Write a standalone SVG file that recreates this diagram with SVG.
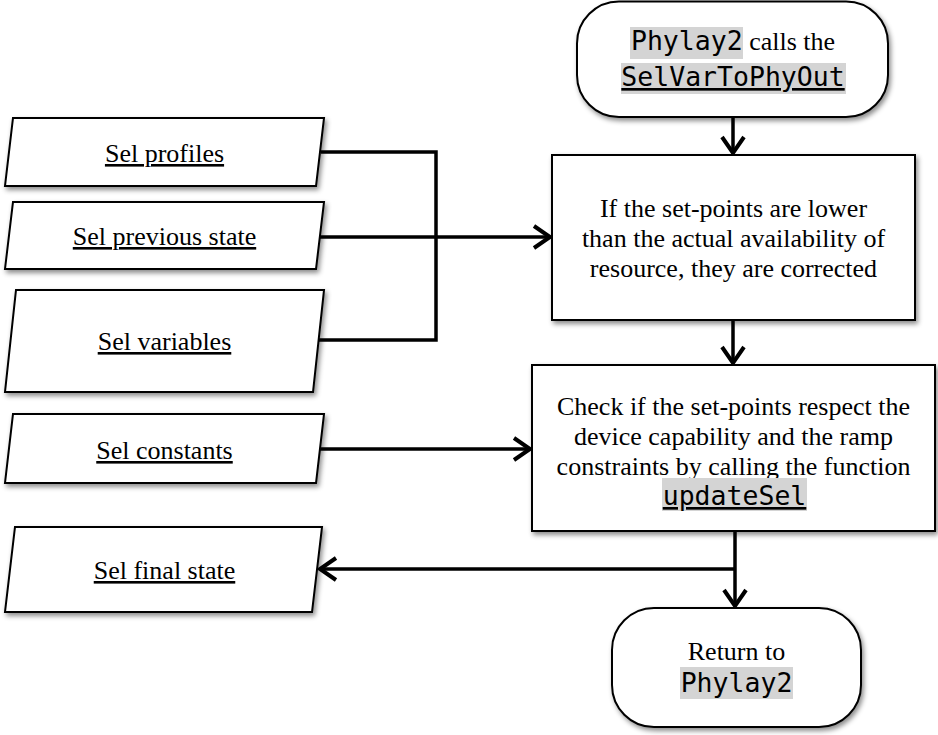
<svg xmlns="http://www.w3.org/2000/svg" width="938" height="735" viewBox="0 0 938 735">
<style>
.shape{fill:#fff;stroke:#000;stroke-width:2;filter:url(#sh)}
.conn{fill:none;stroke:#000;stroke-width:3.5}
.t{font-family:"Liberation Serif","Times New Roman",serif;font-size:26px;fill:#000}
.m{font-family:"DejaVu Sans Mono","Liberation Mono",monospace;font-size:26.5px}
.u{text-decoration:underline}
.hl{fill:#d4d4d4}
</style>
<defs>
<filter id="sh" x="-10%" y="-10%" width="125%" height="130%">
<feDropShadow dx="2" dy="3" stdDeviation="2.5" flood-color="#000" flood-opacity="0.45"/>
</filter>
<marker id="ah" markerUnits="userSpaceOnUse" markerWidth="24" markerHeight="28" viewBox="0 0 24 28" refX="19" refY="14" orient="auto">
<path d="M3,3 L19,14 L3,25" fill="none" stroke="#000" stroke-width="4" stroke-linejoin="miter"/>
</marker>
</defs>

<g id="connectors">
<path class="conn" d="M321,152 H436 V340 H317"/>
<path class="conn" d="M320,237 H550" marker-end="url(#ah)"/>
<path class="conn" d="M320,449 H530" marker-end="url(#ah)"/>
<path class="conn" d="M733,117 V153" marker-end="url(#ah)"/>
<path class="conn" d="M733,320 V363" marker-end="url(#ah)"/>
<path class="conn" d="M735,531 V606" marker-end="url(#ah)"/>
<path class="conn" d="M735,569 H320" marker-end="url(#ah)"/>
</g>

<g id="start">
<rect class="shape" x="577" y="1.5" width="311" height="115.5" rx="42" ry="42"/>
<rect class="hl" x="630" y="27" width="113" height="32"/>
<rect class="hl" x="621" y="63" width="225" height="31"/>
<text class="t" x="733" y="50" text-anchor="middle"><tspan class="m">Phylay2</tspan> calls the</text>
<text class="t m u" x="733" y="86" text-anchor="middle">SelVarToPhyOut</text>
</g>

<g id="correct">
<rect class="shape" x="552" y="155" width="363" height="165"/>
<text class="t" x="733.5" y="217" text-anchor="middle">If the set-points are lower</text>
<text class="t" x="733.5" y="247" text-anchor="middle">than the actual availability of</text>
<text class="t" x="733.5" y="277" text-anchor="middle">resource, they are corrected</text>
</g>

<g id="check">
<rect class="shape" x="532" y="365" width="403" height="166"/>
<text class="t" x="733.5" y="415" text-anchor="middle">Check if the set-points respect the</text>
<text class="t" x="733.5" y="445" text-anchor="middle">device capability and the ramp</text>
<text class="t" x="733.5" y="475" text-anchor="middle">constraints by calling the function</text>
<rect class="hl" x="662" y="478" width="145" height="33"/>
<text class="t m u" x="734.5" y="505" text-anchor="middle">updateSel</text>
</g>

<g id="end">
<rect class="shape" x="612" y="608" width="249" height="119" rx="42" ry="42"/>
<rect class="hl" x="680" y="667" width="113" height="32"/>
<text class="t" x="736.5" y="660" text-anchor="middle">Return to</text>
<text class="t m" x="736.5" y="692" text-anchor="middle">Phylay2</text>
</g>

<g id="sel-profiles">
<polygon class="shape" points="13,118 324,118 316,186 5,186"/>
<text class="t u" x="164.5" y="162" text-anchor="middle">Sel profiles</text>
</g>

<g id="sel-previous-state">
<polygon class="shape" points="13,202 324,202 316,269 5,269"/>
<text class="t u" x="164.5" y="245" text-anchor="middle">Sel previous state</text>
</g>

<g id="sel-variables">
<polygon class="shape" points="16,290 324,290 313,392 5,392"/>
<text class="t u" x="164.5" y="350" text-anchor="middle">Sel variables</text>
</g>

<g id="sel-constants">
<polygon class="shape" points="13,414 324,414 316,483 5,483"/>
<text class="t u" x="164.5" y="459" text-anchor="middle">Sel constants</text>
</g>

<g id="sel-final-state">
<polygon class="shape" points="15,527 322,527 312,612 5,612"/>
<text class="t u" x="164.5" y="579" text-anchor="middle">Sel final state</text>
</g>
</svg>
